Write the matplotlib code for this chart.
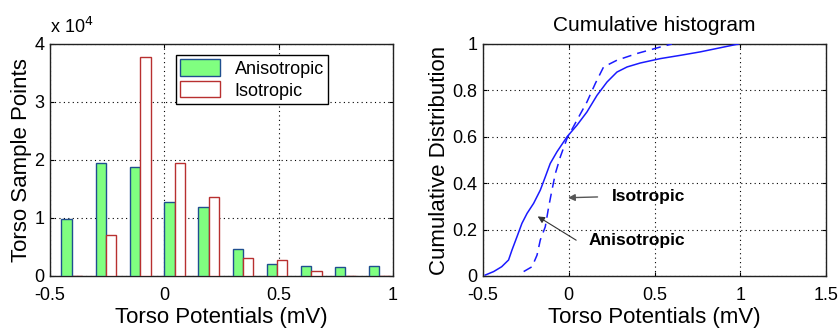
import matplotlib
matplotlib.use("Agg")
import matplotlib.pyplot as plt
import numpy as np

plt.rcParams['font.family'] = ['Liberation Sans', 'DejaVu Sans']

# histogram data (counts in units of 1e4)
bin_centers = [-0.405, -0.255, -0.105, 0.045, 0.194, 0.344, 0.493, 0.643, 0.792, 0.941]
aniso_counts = [0.99, 1.94, 1.88, 1.28, 1.19, 0.46, 0.21, 0.18, 0.16, 0.18]
iso_counts = [0.0, 0.70, 3.78, 1.94, 1.36, 0.315, 0.27, 0.08, 0.0, 0.0]

# cumulative curves
aniso_x = [-0.487, -0.438, -0.391, -0.351, -0.331, -0.302, -0.273, -0.243, -0.205, -0.166,
           -0.137, -0.108, -0.069, -0.01, 0.048, 0.106, 0.165, 0.223, 0.281, 0.34,
           0.417, 0.534, 0.65, 0.767, 0.99]
aniso_y = [0.004, 0.019, 0.04, 0.069, 0.112, 0.169, 0.227, 0.27, 0.313, 0.37,
           0.427, 0.485, 0.535, 0.6, 0.65, 0.707, 0.779, 0.836, 0.879, 0.901,
           0.918, 0.937, 0.951, 0.966, 1.0]
iso_x = [-0.263, -0.214, -0.185, -0.166, -0.137, -0.117, -0.098, -0.078, -0.049, -0.01,
         0.048, 0.106, 0.155, 0.203, 0.281, 0.398, 0.534, 0.602]
iso_y = [0.019, 0.04, 0.09, 0.155, 0.212, 0.298, 0.37, 0.442, 0.514, 0.593,
         0.672, 0.75, 0.83, 0.901, 0.93, 0.959, 0.987, 1.0]

fig = plt.figure(figsize=(8.39, 3.34), dpi=100)
ax1 = fig.add_axes([0.0596, 0.1737, 0.4088, 0.6946])
ax2 = fig.add_axes([0.5757, 0.1737, 0.4088, 0.6946])

w = 0.045
x = np.array(bin_centers)
ax1.bar(x - w / 2, aniso_counts, width=w, color='#80ff80', edgecolor='#1f4f8f',
        linewidth=1.0, label='Anisotropic', zorder=3)
ax1.bar(x + w / 2, iso_counts, width=w, color='white', edgecolor='#b83030',
        linewidth=1.0, label='Isotropic', zorder=3)
ax1.set_xlim(-0.5, 1)
ax1.set_ylim(0, 4)
ax1.set_xticks([-0.5, 0, 0.5, 1])
ax1.set_xticklabels(['-0.5', '0', '0.5', '1'])
ax1.set_yticks([0, 1, 2, 3, 4])
ax1.set_xlabel('Torso Potentials (mV)', fontsize=16, labelpad=2)
ax1.set_ylabel('Torso Sample Points', fontsize=16, labelpad=2)
ax1.text(0.0, 1.03, r'x 10$^{4}$', transform=ax1.transAxes, fontsize=13,
         ha='left', va='bottom')
leg = ax1.legend(loc='upper left', bbox_to_anchor=(0.367, 0.953), fontsize=13,
                 fancybox=False, framealpha=1, edgecolor='black', borderaxespad=0,
                 handlelength=2.2, handleheight=1.0, borderpad=0.25, labelspacing=0.2)
leg.get_frame().set_linewidth(1.0)

ax2.plot(aniso_x, aniso_y, color='#1a1aff', linewidth=1.1, zorder=3)
ax2.plot(iso_x, iso_y, color='#1a1aff', linewidth=1.1, linestyle=(0, (6, 4)), zorder=3)
ax2.set_xlim(-0.5, 1.5)
ax2.set_ylim(0, 1)
ax2.set_xticks([-0.5, 0, 0.5, 1, 1.5])
ax2.set_xticklabels(['-0.5', '0', '0.5', '1', '1.5'])
ax2.set_yticks([0, 0.2, 0.4, 0.6, 0.8, 1])
ax2.set_yticklabels(['0', '0.2', '0.4', '0.6', '0.8', '1'])
ax2.set_xlabel('Torso Potentials (mV)', fontsize=16, labelpad=2)
ax2.set_ylabel('Cumulative Distribution', fontsize=16, labelpad=2)
ax2.set_title('Cumulative histogram', fontsize=15, pad=9)

ax2.annotate('', xy=(-0.02, 0.337), xytext=(0.184, 0.341),
             arrowprops=dict(arrowstyle='-|>', color='#555555', lw=1.0,
                             mutation_scale=10))
ax2.text(0.252, 0.344, 'Isotropic', fontsize=12.5, fontweight='bold',
         ha='left', va='center')
ax2.annotate('', xy=(-0.195, 0.263), xytext=(0.057, 0.148),
             arrowprops=dict(arrowstyle='-|>', color='#333333', lw=0.8,
                             mutation_scale=10))
ax2.text(0.116, 0.152, 'Anisotropic', fontsize=12.5, fontweight='bold',
         ha='left', va='center')

for ax in (ax1, ax2):
    ax.grid(True, color='black', linestyle=(0, (1, 3)), linewidth=0.8)
    ax.set_axisbelow(True)
    ax.tick_params(direction='in', length=3, labelsize=13,
                   top=True, right=True)
    ax.tick_params(axis='x', pad=8)
    ax.tick_params(axis='y', pad=4)
    for s in ax.spines.values():
        s.set_linewidth(1.0)
        s.set_color('#222222')

fig.savefig('out.png', dpi=100)
